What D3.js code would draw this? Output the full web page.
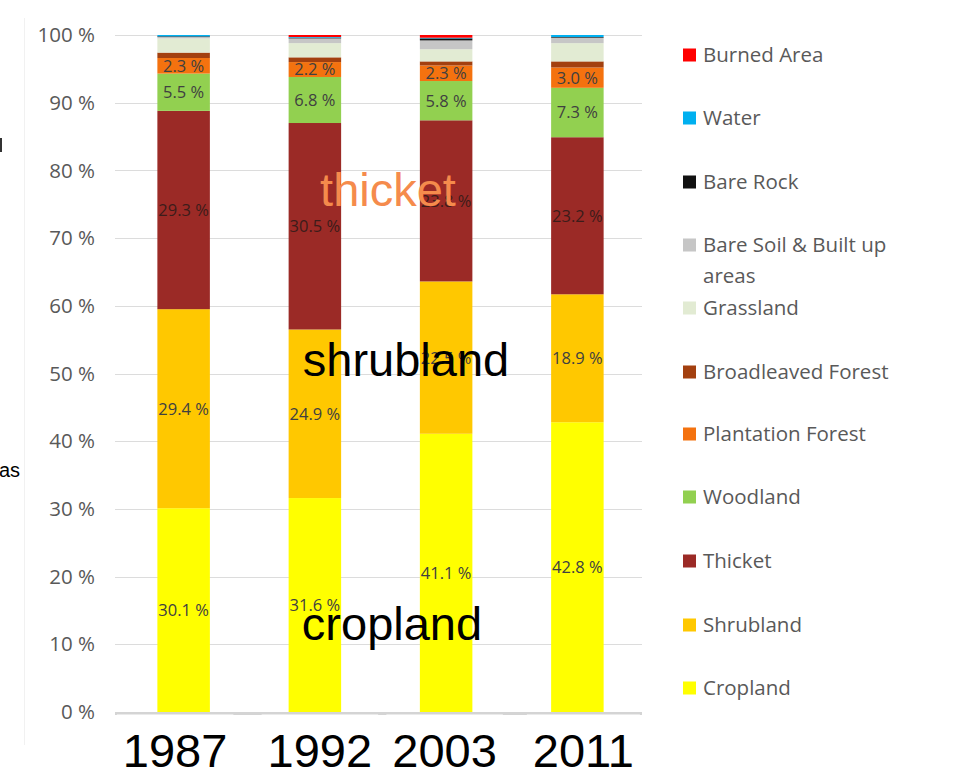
<!DOCTYPE html>
<html>
<head>
<meta charset="utf-8">
<script src="https://cdn.jsdelivr.net/npm/d3@7"></script>
<style>
  html, body { margin: 0; padding: 0; background: #fff; }
  svg { display: block; }
  .tick-label { font-family: "Open Sans", sans-serif; font-size: 20.5px; fill: #595959; }
  .legend text { font-family: "Open Sans", sans-serif; font-size: 20.5px; fill: #595959; }
  .val { font-family: "Open Sans", sans-serif; font-size: 16.5px; }
  .big { font-family: "Liberation Sans", Arial, sans-serif; font-size: 47px; }
</style>
</head>
<body>
<div id="chart"></div>
<script>
// land cover shares (%) per survey year
var years = ["1987", "1992", "2003", "2011"];
var cropland    = [30.1, 31.6, 41.1, 42.8];
var shrubland   = [29.4, 24.9, 22.5, 18.9];
var thicket     = [29.3, 30.5, 23.8, 23.2];
var woodland    = [5.5, 6.8, 5.8, 7.3];
var plantation  = [2.3, 2.2, 2.3, 3.0];
var broadleaved = [0.8, 0.7, 0.6, 0.9];
var grassland   = [2.1, 2.1, 1.8, 2.7];
var bareSoil    = [0.2, 0.7, 1.3, 0.8];
var bareRock    = [0.1, 0.1, 0.3, 0.1];
var water       = [0.2, 0.1, 0.1, 0.3];
var burned      = [0.0, 0.3, 0.4, 0.0];

var yTicks = [0, 10, 20, 30, 40, 50, 60, 70, 80, 90, 100];

// bottom -> top stacking order
var series = [
  { name: "Cropland", values: cropland, color: "#ffff00", label: true },
  { name: "Shrubland", values: shrubland, color: "#ffc800", label: true },
  { name: "Thicket", values: thicket, color: "#9b2a26", label: true },
  { name: "Woodland", values: woodland, color: "#92d050", label: true },
  { name: "Plantation Forest", values: plantation, color: "#f4720f", label: true },
  { name: "Broadleaved Forest", values: broadleaved, color: "#a3400f", label: false },
  { name: "Grassland", values: grassland, color: "#e2ebd3", label: false },
  { name: "Bare Soil & Built up\nareas", values: bareSoil, color: "#c6c6c6", label: false },
  { name: "Bare Rock", values: bareRock, color: "#111111", label: false },
  { name: "Water", values: water, color: "#00b0f0", label: false },
  { name: "Burned Area", values: burned, color: "#ff0000", label: false }
];

var W = 961, H = 779;
var svg = d3.select("#chart").append("svg").attr("width", W).attr("height", H);

var x = d3.scaleBand().domain(years).range([118, 643]).paddingInner(0.6).paddingOuter(0.3);
var y = d3.scaleLinear().domain([0, 100]).range([712, 35]);

// faint frame line at the far left
svg.append("line")
  .attr("x1", 24.5).attr("x2", 24.5).attr("y1", 18).attr("y2", 745)
  .attr("stroke", "#f1f1f1");

// gridlines
svg.append("g").selectAll("line")
  .data(yTicks.filter(function (d) { return d > 0; }))
  .join("line")
  .attr("x1", 115).attr("x2", 642)
  .attr("y1", function (d) { return Math.round(y(d)) + 0.5; })
  .attr("y2", function (d) { return Math.round(y(d)) + 0.5; })
  .attr("stroke", "#dcdcdc");

// base axis line (mostly hidden behind the year boxes)
svg.append("line")
  .attr("x1", 115).attr("x2", 642).attr("y1", y(0) + 1.5).attr("y2", y(0) + 1.5)
  .attr("stroke", "#d4d4d4").attr("stroke-width", 3);

svg.append("g").selectAll("text")
  .data(yTicks)
  .join("text")
  .attr("class", "tick-label")
  .attr("x", 95)
  .attr("y", function (d) { return y(d); })
  .attr("dy", "0.35em")
  .attr("text-anchor", "end")
  .text(function (d) { return d + " %"; });

// stacked bars
var table = years.map(function (yr, i) {
  var row = { year: yr };
  series.forEach(function (s) { row[s.name] = s.values[i]; });
  return row;
});
var stack = d3.stack().keys(series.map(function (s) { return s.name; }));
var layers = stack(table);

var gBars = svg.append("g");
layers.forEach(function (layer, k) {
  var s = series[k];
  gBars.append("g").attr("fill", s.color)
    .selectAll("rect")
    .data(layer)
    .join("rect")
    .attr("x", function (d) { return x(d.data.year); })
    .attr("width", x.bandwidth())
    .attr("y", function (d) { return y(d[1]); })
    .attr("height", function (d) { return Math.max(0, y(d[0]) - y(d[1])); });
});

// value labels
layers.forEach(function (layer, k) {
  var s = series[k];
  if (!s.label) return;
  svg.append("g").selectAll("text")
    .data(layer)
    .join("text")
    .attr("class", "val")
    .attr("x", function (d) { return x(d.data.year) + x.bandwidth() / 2; })
    .attr("y", function (d) { return y((d[0] + d[1]) / 2); })
    .attr("dy", "0.36em")
    .attr("text-anchor", "middle")
    .attr("fill", k === 2 ? "#3c1c1a" : "#404040")
    .text(function (d) { return (d[1] - d[0]).toFixed(1) + " %"; });
});

// legend (top -> bottom is reverse of stacking)
var legendRows = series.slice().reverse();
var legendY = [55, 118, 182, 245, 308, 372, 434, 497, 561, 625, 688];
var lg = svg.append("g").attr("class", "legend");
legendRows.forEach(function (s, i) {
  var g = lg.append("g").attr("transform", "translate(683," + legendY[i] + ")");
  g.append("rect").attr("x", 0).attr("y", -6.5).attr("width", 13).attr("height", 13).attr("fill", s.color);
  var t = g.append("text").attr("x", 20).attr("y", 0);
  s.name.split("\n").forEach(function (line, j) {
    t.append("tspan").attr("x", 20).attr("dy", j === 0 ? "0.35em" : "1.5em").text(line);
  });
});

// big year captions on white boxes
var yearShift = [-8.5, 5, -1.5, 6];
years.forEach(function (yr, i) {
  var cx = x(yr) + x.bandwidth() / 2 + yearShift[i];
  var box = svg.append("rect").attr("fill", "#fff");
  var t = svg.append("text").attr("class", "big")
    .attr("x", cx).attr("y", 767).attr("text-anchor", "middle").attr("fill", "#000")
    .text(yr);
  var bb = t.node().getBBox();
  box.attr("x", bb.x - 6).attr("y", 714.5).attr("width", bb.width + 12).attr("height", H - 714);
});

// annotations laid over the bars
svg.append("text").attr("class", "big").attr("x", 388).attr("y", 206)
  .attr("text-anchor", "middle").attr("fill", "#f58b4c").text("thicket");
svg.append("text").attr("class", "big").attr("x", 406).attr("y", 376)
  .attr("text-anchor", "middle").attr("fill", "#000").text("shrubland");
svg.append("text").attr("class", "big").attr("x", 392).attr("y", 640)
  .attr("text-anchor", "middle").attr("fill", "#000").text("cropland");

// clipped fragments at the left edge
svg.append("text").attr("x", -1).attr("y", 477)
  .style("font-family", "Liberation Sans, Arial, sans-serif").style("font-size", "20px")
  .attr("fill", "#000").text("as");
svg.append("rect").attr("x", 0).attr("y", 138).attr("width", 2).attr("height", 14).attr("fill", "#333");
</script>
</body>
</html>
